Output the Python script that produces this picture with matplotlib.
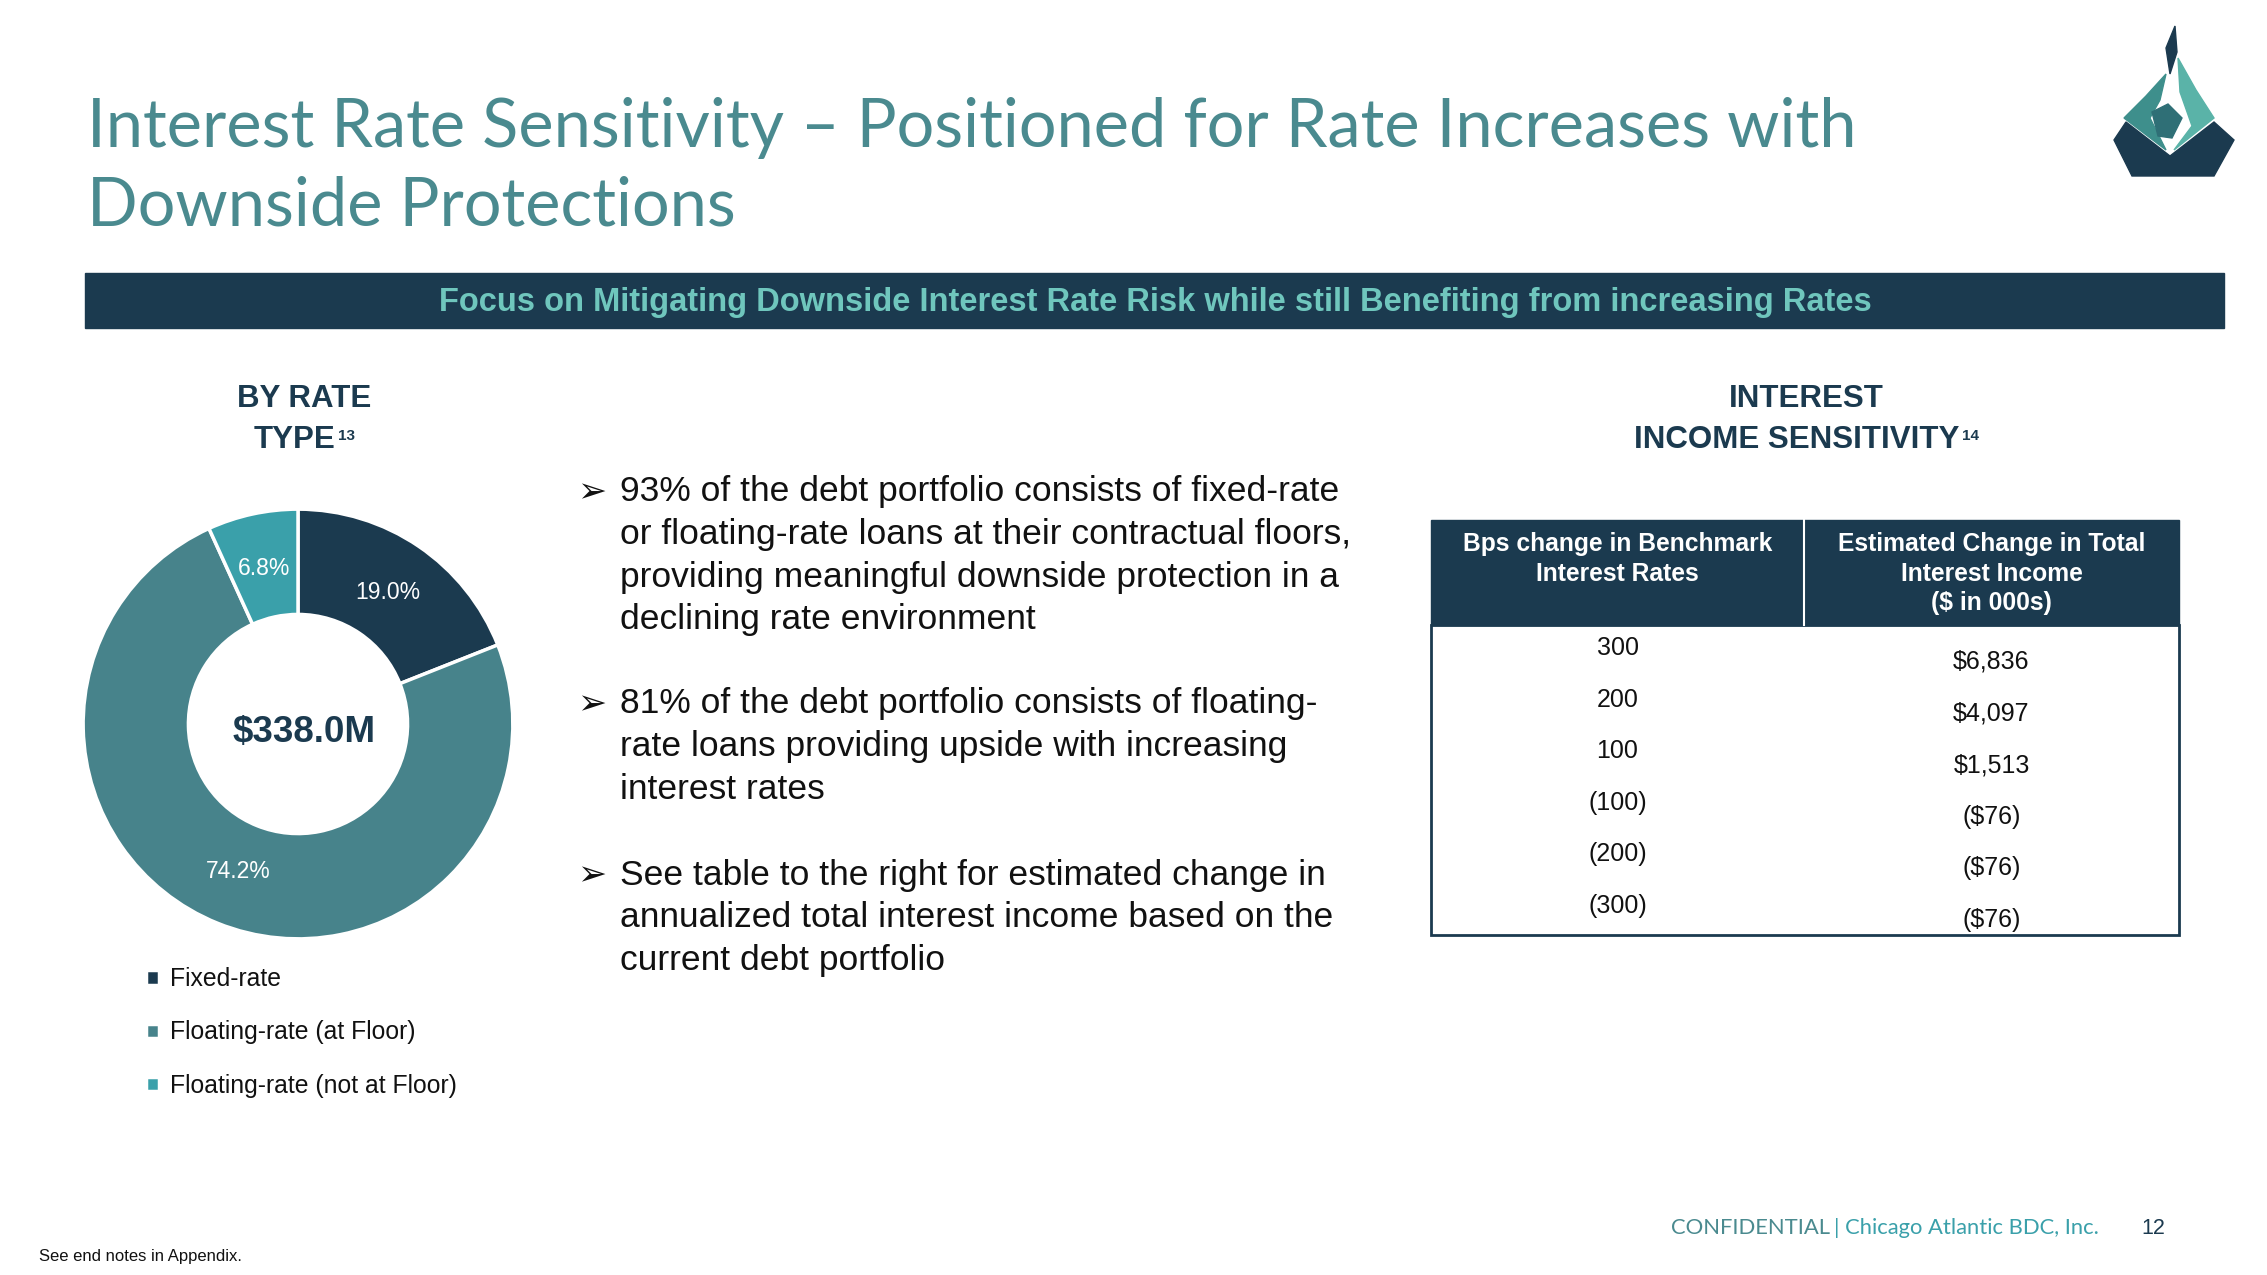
import matplotlib.pyplot as plt
from matplotlib.patches import Rectangle, Polygon

plt.rcParams['font.family'] = ['Liberation Sans', 'DejaVu Sans']

# ---- data ----
rate_types = ['Fixed-rate', 'Floating-rate (at Floor)', 'Floating-rate (not at Floor)']
rate_shares = [19.0, 74.2, 6.8]
portfolio_total = '$338.0M'

bps_changes = ['300', '200', '100', '(100)', '(200)', '(300)']
income_changes = ['$6,836', '$4,097', '$1,513', '($76)', '($76)', '($76)']

bullets = [
    ['93% of the debt portfolio consists of fixed-rate',
     'or floating-rate loans at their contractual floors,',
     'providing meaningful downside protection in a',
     'declining rate environment'],
    ['81% of the debt portfolio consists of floating-',
     'rate loans providing upside with increasing',
     'interest rates'],
    ['See table to the right for estimated change in',
     'annualized total interest income based on the',
     'current debt portfolio'],
]

NAVY = '#1b3a4f'
TEAL = '#47838b'
LIGHT_TEAL = '#3aa0aa'
TITLE_TEAL = '#4a8a8f'
pie_colors = [NAVY, TEAL, LIGHT_TEAL]

W, H = 2267, 1275
fig = plt.figure(figsize=(W / 100, H / 100), dpi=100)
bg = fig.add_axes([0, 0, 1, 1])
bg.set_xlim(0, W)
bg.set_ylim(H, 0)
bg.axis('off')
renderer = fig.canvas.get_renderer()

# title
for y, line in zip([128, 207], ['Interest Rate Sensitivity \u2013 Positioned for Rate Increases with',
                                'Downside Protections']):
    bg.text(87, y, line, fontsize=48, color=TITLE_TEAL, family=['Lato', 'DejaVu Sans'], va='center')

# banner
bg.add_patch(Rectangle((85, 273), 2139, 55, color=NAVY))
bg.text(1155, 302, 'Focus on Mitigating Downside Interest Rate Risk while still Benefiting from increasing Rates',
        fontsize=23.5, fontweight='bold', color='#6fc6bd', ha='center', va='center')


# section headings with superscript notes
def heading(x, lines, note):
    for i, line in enumerate(lines):
        xx = x - 9 if i == len(lines) - 1 else x
        t = bg.text(xx, 399 + i * 41, line, fontsize=22.5, fontweight='bold', color=NAVY,
                    ha='center', va='center')
    bb = t.get_window_extent(renderer)
    bg.text(bb.x1 + 2, 395 + (len(lines) - 1) * 41, note, fontsize=11, fontweight='bold',
            color=NAVY, ha='left', va='center')


heading(304, ['BY RATE', 'TYPE'], '13')
heading(1806, ['INTEREST', 'INCOME SENSITIVITY'], '14')

# donut
cx, cy, r = 298, 724, 217
pie_ax = fig.add_axes([(cx - r) / W, 1 - (cy + r) / H, 2 * r / W, 2 * r / H])
wedges, _, autotexts = pie_ax.pie(rate_shares, colors=pie_colors, startangle=90, counterclock=False,
                                  autopct='%.1f%%', pctdistance=0.74,
                                  wedgeprops=dict(width=0.49, edgecolor='white', linewidth=2.5),
                                  textprops=dict(color='white', fontsize=16.5))
pie_ax.set_xlim(-1.01, 1.01)
pie_ax.set_ylim(-1.01, 1.01)
pie_ax.set_aspect('equal')
pie_ax.text(0.03, -0.04, portfolio_total, ha='center', va='center', fontsize=26.5,
            fontweight='bold', color=NAVY)

fig.legend(wedges, rate_types, loc='upper left', bbox_to_anchor=(124 / W, 1 - 945 / H),
           frameon=False, fontsize=17.8, handlelength=0.5, handleheight=0.5,
           labelspacing=1.18, handletextpad=0.45, labelcolor='#111111')

# bullets
starts = [492, 704, 875]
for y0, lines in zip(starts, bullets):
    bg.text(577, y0, '\u27a2', fontsize=25, color='#111111', va='center', ha='left',
            family=['DejaVu Sans'])
    for i, line in enumerate(lines):
        bg.text(620, y0 + i * 42.6, line, fontsize=25.5, color='#111111', va='center')

# table
tx0, tx1, tmid = 1431, 2179, 1804
ty0, ty1, tb = 520, 625, 935
bg.add_patch(Rectangle((tx0, ty0), tx1 - tx0, ty1 - ty0, color=NAVY))
bg.plot([tmid, tmid], [ty0, ty1], color='white', lw=1.5)
bg.add_patch(Rectangle((tx0, ty1), tx1 - tx0, tb - ty1, fill=False, edgecolor=NAVY, lw=2))
col_l = (tx0 + tmid) / 2
col_r = (tmid + tx1) / 2
bg.text(col_l, 532, 'Bps change in Benchmark\nInterest Rates', fontsize=17.7, fontweight='bold',
        color='white', ha='center', va='top', linespacing=1.3)
bg.text(col_r, 532, 'Estimated Change in Total\nInterest Income\n($ in 000s)', fontsize=17.7,
        fontweight='bold', color='white', ha='center', va='top', linespacing=1.3)
for i, (b, v) in enumerate(zip(bps_changes, income_changes)):
    bg.text(col_l, 648 + i * 51.6, b, fontsize=18, color='#111111', ha='center', va='center')
    bg.text(col_r, 662 + i * 51.6, v, fontsize=18, color='#111111', ha='center', va='center')

# logo (rough)
bg.add_patch(Polygon([(2114, 140), (2126, 122), (2170, 156), (2214, 122), (2234, 140),
                      (2214, 176), (2132, 176)], color=NAVY))
bg.add_patch(Polygon([(2124, 118), (2146, 96), (2166, 74), (2160, 100), (2150, 118),
                      (2166, 150)], color='#3e8f8c'))
bg.add_patch(Polygon([(2214, 118), (2196, 90), (2178, 58), (2180, 92), (2192, 126),
                      (2174, 150)], color='#5ab3a8'))
bg.add_patch(Polygon([(2152, 112), (2168, 104), (2182, 118), (2172, 138), (2158, 136)],
                     color='#2f6f76'))
bg.add_patch(Polygon([(2175, 26), (2166, 48), (2170, 74), (2177, 52)], color=NAVY))

# footer
t = bg.text(1671, 1228, 'CONFIDENTIAL', fontsize=15.8, color=TITLE_TEAL, va='center',
            family=['Lato', 'DejaVu Sans'])
bb = t.get_window_extent(renderer)
bg.text(bb.x1 + 4, 1228, '| Chicago Atlantic BDC, Inc.', fontsize=15.8, color=LIGHT_TEAL,
        va='center', family=['Lato', 'DejaVu Sans'])
bg.text(2141, 1229, '12', fontsize=15.5, color=NAVY, va='center')
bg.text(39, 1257, 'See end notes in Appendix.', fontsize=12, color='#111111', va='center')

fig.savefig('out.png', dpi=100)
